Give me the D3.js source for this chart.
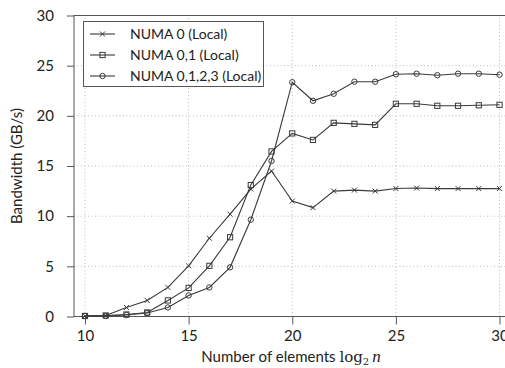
<!DOCTYPE html>
<html>
<head>
<meta charset="utf-8">
<script src="https://cdn.jsdelivr.net/npm/d3@7"></script>
<style>
  body { margin: 0; background: #fff; }
  text { font-family: 'Lato', 'Liberation Sans', sans-serif; fill: #222; }
</style>
</head>
<body>
<svg width="505" height="368"></svg>
<script>
// log2 n
const sizes = [10, 11, 12, 13, 14, 15, 16, 17, 18, 19, 20, 21, 22, 23, 24, 25, 26, 27, 28, 29, 30];

// bandwidth GB/s
const numa0 = [0.05, 0.1, 0.9, 1.6, 2.9, 5.05, 7.8, 10.2, 12.7, 14.5, 11.5, 10.85, 12.5, 12.6, 12.5, 12.75, 12.8, 12.75, 12.75, 12.75, 12.75];
const numa01 = [0.05, 0.1, 0.2, 0.4, 1.6, 2.85, 5.05, 7.9, 13.1, 16.45, 18.25, 17.6, 19.3, 19.2, 19.1, 21.2, 21.2, 21.0, 21.0, 21.05, 21.1];
const numa0123 = [0.05, 0.05, 0.15, 0.35, 0.9, 2.1, 2.9, 4.9, 9.65, 15.5, 23.35, 21.5, 22.2, 23.4, 23.4, 24.15, 24.2, 24.05, 24.2, 24.2, 24.1];

const seriesNames = ['NUMA 0 (Local)', 'NUMA 0,1 (Local)', 'NUMA 0,1,2,3 (Local)'];
const seriesMarks = ['cross', 'square', 'circle'];
const xTicks = [10, 15, 20, 25, 30];
const yTicks = [0, 5, 10, 15, 20, 25, 30];

const series = [numa0, numa01, numa0123].map((vals, i) => ({
  name: seriesNames[i],
  mark: seriesMarks[i],
  points: vals.map((v, j) => ({ x: sizes[j], y: v }))
}));

const svg = d3.select('svg');
const lineColor = '#3a3a3a';
const axisColor = '#555';

const x = d3.scaleLinear().domain([9.47, 30.53]).range([74, 510.5]);
const y = d3.scaleLinear().domain([0, 30]).range([316.5, 15.5]);

// dotted grid
const grid = svg.append('g').attr('class', 'grid');
grid.selectAll('.gx')
  .data(xTicks)
  .enter()
  .append('line')
    .attr('x1', d => x(d)).attr('x2', d => x(d))
    .attr('y1', y(0)).attr('y2', y(30))
    .attr('stroke', '#bbb')
    .attr('stroke-dasharray', '1,2.5');
grid.selectAll('.gy')
  .data(yTicks)
  .enter()
  .append('line')
    .attr('x1', x.range()[0]).attr('x2', x.range()[1])
    .attr('y1', d => y(d)).attr('y2', d => y(d))
    .attr('stroke', '#bbb')
    .attr('stroke-dasharray', '1,2.5');

// axes
const xAxis = svg.append('g')
  .attr('transform', `translate(0,${y(0)})`)
  .call(d3.axisBottom(x).tickValues(xTicks).tickSize(8).tickPadding(6).tickSizeOuter(0));
const yAxis = svg.append('g')
  .attr('transform', `translate(${x.range()[0]},0)`)
  .call(d3.axisLeft(y).tickValues(yTicks).tickSize(7).tickPadding(13).tickSizeOuter(0));

[xAxis, yAxis].forEach(g => {
  g.select('.domain').remove();
  g.selectAll('line').attr('stroke', axisColor);
  g.selectAll('text')
    .style('font-family', "'Lato', 'Liberation Sans', sans-serif")
    .attr('font-size', 15)
    .attr('fill', '#222');
});

// frame
svg.append('rect')
  .attr('x', x.range()[0]).attr('y', y(30))
  .attr('width', x.range()[1] - x.range()[0])
  .attr('height', y(0) - y(30))
  .attr('fill', 'none')
  .attr('stroke', axisColor)
  .attr('stroke-width', 1);

const line = d3.line().x(d => x(d.x)).y(d => y(d.y));

function drawMark(sel, mark) {
  if (mark === 'cross') {
    sel.append('path')
      .attr('d', 'M-2.5,-2.5L2.5,2.5M-2.5,2.5L2.5,-2.5')
      .attr('stroke', lineColor)
      .attr('stroke-width', 1);
  } else if (mark === 'square') {
    sel.append('rect')
      .attr('x', -2.6).attr('y', -2.6)
      .attr('width', 5.2).attr('height', 5.2)
      .attr('fill', 'none')
      .attr('stroke', lineColor)
      .attr('stroke-width', 1);
  } else {
    sel.append('circle')
      .attr('r', 2.7)
      .attr('fill', 'none')
      .attr('stroke', lineColor)
      .attr('stroke-width', 1);
  }
}

const plot = svg.append('g');
series.forEach(s => {
  plot.append('path')
    .datum(s.points)
    .attr('d', line)
    .attr('fill', 'none')
    .attr('stroke', lineColor)
    .attr('stroke-width', 1.1);

  plot.append('g')
    .selectAll('g')
    .data(s.points)
    .enter()
    .append('g')
      .attr('transform', d => `translate(${x(d.x)},${y(d.y)})`)
      .each(function () { drawMark(d3.select(this), s.mark); });
});

// legend
const legend = svg.append('g');
legend.append('rect')
  .attr('x', 83.5).attr('y', 21.5)
  .attr('width', 180).attr('height', 65)
  .attr('fill', '#fff')
  .attr('stroke', axisColor);

const entry = legend.selectAll('.entry')
  .data(series)
  .enter()
  .append('g')
    .attr('class', 'entry')
    .attr('transform', (d, i) => `translate(0,${34 + i * 21})`);

entry.append('line')
  .attr('x1', 90).attr('x2', 115)
  .attr('stroke', lineColor)
  .attr('stroke-width', 1.1);
entry.append('g')
  .attr('transform', 'translate(102.5,0)')
  .each(function (d) { drawMark(d3.select(this), d.mark); });
entry.append('text')
  .attr('x', 130)
  .attr('dy', '0.35em')
  .attr('font-size', 14)
  .text(d => d.name);

// axis labels
svg.append('text')
  .attr('transform', `translate(22,${(y(0) + y(30)) / 2}) rotate(-90)`)
  .attr('text-anchor', 'middle')
  .attr('font-size', 15)
  .text('Bandwidth (GB/s)');

const xl = svg.append('text')
  .attr('x', 291)
  .attr('y', 362)
  .attr('text-anchor', 'middle')
  .attr('font-size', 15)
  .text('Number of elements ');
xl.append('tspan')
  .style('font-family', "'DejaVu Serif', 'Liberation Serif', serif")
  .text('log');
xl.append('tspan')
  .style('font-family', "'DejaVu Serif', 'Liberation Serif', serif")
  .attr('font-size', 10)
  .attr('dy', 3)
  .text('2');
xl.append('tspan')
  .style('font-family', "'Liberation Serif', serif")
  .style('font-style', 'italic')
  .attr('dy', -3)
  .attr('dx', 3)
  .attr('font-size', 17)
  .text('n');
</script>
</body>
</html>
